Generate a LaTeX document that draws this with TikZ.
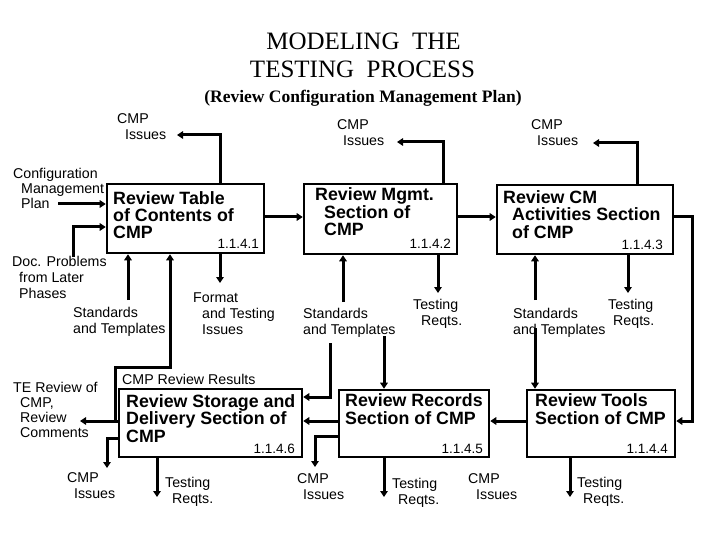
\documentclass[tikz,border=0pt]{standalone}
\usepackage{fontspec}
\setmainfont{Liberation Sans}
\newfontfamily\titlefont{Liberation Serif}
\usetikzlibrary{arrows.meta}
\begin{document}
\begin{tikzpicture}[x=1pt,y=-1pt,
  box/.style={draw, line width=2.6pt, inner sep=0pt},
  conn/.style={line width=3pt, line join=miter, -{Triangle[length=6pt,width=7.5pt]}},
  lbl/.style={font=\fontsize{14.2}{16}\selectfont, align=left, inner sep=0pt, anchor=base west},
  lbltight/.style={lbl, font=\fontsize{14.2}{15}\selectfont},
  btxt/.style={font=\fontsize{17.8}{17.5}\selectfont\bfseries, align=left, inner sep=0pt, anchor=base west},
  num/.style={font=\fontsize{13.5}{14}\selectfont, inner sep=0pt, anchor=base east},
  ttl/.style={font=\fontsize{25}{28}\selectfont\titlefont, inner sep=0pt, anchor=base},
  sub/.style={font=\fontsize{17.5}{20}\selectfont\titlefont\bfseries, inner sep=0pt, anchor=base}]
\useasboundingbox (0,0) rectangle (720,540);

% title
\node[ttl] (t1) at (363.5,50) {MODELING\ \ THE};
\node[ttl] (t2) at (362.5,78) {TESTING\ \ PROCESS};
\node[sub] (t3) at (363,103) {(Review Configuration Management Plan)};

% boxes
\node[box, minimum width=157pt, minimum height=69pt] (b1) at (185.5,218.5) {};
\node[box, minimum width=153pt, minimum height=70pt] (b2) at (380.5,219) {};
\node[box, minimum width=176pt, minimum height=69pt] (b3) at (585,219.5) {};
\node[box, minimum width=183pt, minimum height=68pt] (b6) at (210.5,423) {};
\node[box, minimum width=150pt, minimum height=67pt] (b5) at (414,423.5) {};
\node[box, minimum width=148pt, minimum height=67pt] (b4) at (601,423.5) {};

% box texts (anchor = baseline of last line)
\node[btxt] (b1t) at (113,239) {Review Table\\of Contents of\\CMP};
\node[num] (b1n) at (259,248) {1.1.4.1};
\node[btxt] (b2t) at (315,236) {Review Mgmt.\\\hspace*{9pt}Section of\\\hspace*{9pt}CMP};
\node[num] (b2n) at (451,248) {1.1.4.2};
\node[btxt] (b3t) at (503,238) {Review CM\\\hspace*{9pt}Activities Section\\\hspace*{9pt}of CMP};
\node[num] (b3n) at (663,249) {1.1.4.3};
\node[btxt] (b6t) at (126,442) {Review Storage and\\Delivery Section of\\CMP};
\node[num] (b6n) at (295,453) {1.1.4.6};
\node[btxt] (b5t) at (345,424) {Review Records\\Section of CMP};
\node[num] (b5n) at (483,453) {1.1.4.5};
\node[btxt] (b4t) at (535,424) {Review Tools\\Section of CMP};
\node[num] (b4n) at (668,453) {1.1.4.4};

% labels (anchor = baseline of last line)
\node[lbl] (l1) at (117,140) {CMP\\\hspace*{8pt}Issues};
\node[lbltight] (l2) at (13,208) {Configuration\\\hspace*{8pt}Management\\\hspace*{8pt}Plan};
\node[lbl] (l3) at (12,298) {Doc. Problems\\\hspace*{7pt}from Later\\\hspace*{7pt}Phases};
\node[lbl] (l4) at (73,333) {Standards\\and Templates};
\node[lbl] (l5) at (193,334) {Format\\\hspace*{9pt}and Testing\\\hspace*{9pt}Issues};
\node[lbl] (l6) at (122,384) {CMP Review Results};
\node[lbltight] (l7) at (13,437) {TE Review of\\\hspace*{7pt}CMP,\\\hspace*{7pt}Review\\\hspace*{7pt}Comments};
\node[lbl] (l8) at (67,498) {CMP\\\hspace*{7pt}Issues};
\node[lbl] (l9) at (165,503) {Testing\\\hspace*{7pt}Reqts.};
\node[lbl] (l10) at (337,146) {CMP\\\hspace*{6pt}Issues};
\node[lbl] (l11) at (303,334) {Standards\\and Templates};
\node[lbl] (l12) at (413,325) {Testing\\\hspace*{8pt}Reqts.};
\node[lbl] (l13) at (531,146) {CMP\\\hspace*{6pt}Issues};
\node[lbl] (l14) at (513,334) {Standards\\and Templates};
\node[lbl] (l15) at (608,325) {Testing\\\hspace*{5pt}Reqts.};
\node[lbl] (l16) at (297,499) {CMP\\\hspace*{6pt}Issues};
\node[lbl] (l17) at (392,504) {Testing\\\hspace*{6pt}Reqts.};
\node[lbl] (l18) at (468,499) {CMP\\\hspace*{8pt}Issues};
\node[lbl] (l19) at (577,503) {Testing\\\hspace*{6pt}Reqts.};

% free ends
\coordinate (e1) at (177,135);
\coordinate (e2) at (58,204);
\coordinate (e3) at (73,257);
\coordinate (e4) at (128,300);
\coordinate (e5) at (80,421);
\coordinate (j5) at (115,421);
\coordinate (e6) at (220,283);
\coordinate (e9) at (397,142);
\coordinate (e10) at (343,302);
\coordinate (e11) at (438,293);
\coordinate (e12) at (593,143);
\coordinate (e13) at (535,300);
\coordinate (e14) at (628,293);
\coordinate (e16) at (535,328);
\coordinate (e18) at (570,497);
\coordinate (e19) at (384,336);
\coordinate (e20) at (330,343);
\coordinate (e22) at (315,467);
\coordinate (e23) at (384,497);
\coordinate (e24) at (107,468);
\coordinate (e25) at (157,497);

% connectors box 1
\draw[conn] (b1.north -| 220,0) |- (e1);
\draw[conn] (e2) -- (b1.west |- e2);
\draw[conn] (e3) |- (b1.west |- 0,227);
\draw[conn] (e4) -- (b1.south -| e4);
\draw[conn] (b6.west |- e5) -- (e5);
\draw[conn] (j5) -- (115,367) -- (170,367) -- (b1.south -| 170,0);
\draw[conn] (b1.south -| e6) -- (e6);
\draw[conn] (b1.east |- 0,217) -- (b2.west |- 0,217);

% box 2
\draw[conn] (b2.east |- 0,217) -- (b3.west |- 0,217);
\draw[conn] (b2.north -| 443,0) |- (e9);
\draw[conn] (e10) -- (b2.south -| e10);
\draw[conn] (b2.south -| e11) -- (e11);

% box 3
\draw[conn] (b3.north -| 637,0) |- (e12);
\draw[conn] (e13) -- (b3.south -| e13);
\draw[conn] (b3.south -| e14) -- (e14);
\draw[conn] (b3.east |- 0,217) -- (692,217) -- (692,421) -- (b4.east |- 0,421);

% box 4
\draw[conn] (e16) -- (b4.north -| e16);
\draw[conn] (b4.west |- 0,421) -- (b5.east |- 0,421);
\draw[conn] (b4.south -| e18) -- (e18);

% box 5
\draw[conn] (e19) -- (b5.north -| e19);
\draw[conn] (e20) -- (330,397) -- (b6.east |- 0,397);
\draw[conn] (b5.west |- 0,421) -- (b6.east |- 0,421);
\draw[conn] (b5.west |- 0,436) -- (315,436) -- (e22);
\draw[conn] (b5.south -| e23) -- (e23);

% box 6
\draw[conn] (b6.west |- 0,438) -- (107,438) -- (e24);
\draw[conn] (b6.south -| e25) -- (e25);
\end{tikzpicture}
\end{document}
